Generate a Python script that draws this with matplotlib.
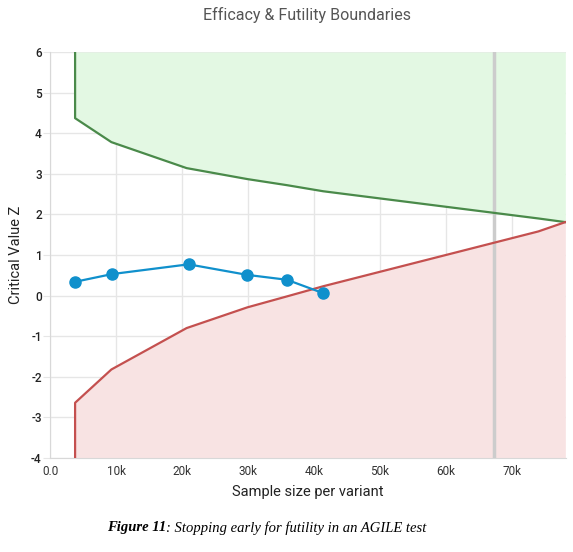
import matplotlib.pyplot as plt
from matplotlib.ticker import FuncFormatter

# sample size per variant (thousands) at each look
looks = [3.8, 9.3, 20.7, 29.9, 35.9, 41.4, 74.0, 78.1]
efficacy = [4.37, 3.78, 3.14, 2.87, 2.72, 2.57, 1.90, 1.81]
futility = [-2.64, -1.82, -0.80, -0.29, -0.02, 0.23, 1.58, 1.81]

observed_n = [3.8, 9.4, 21.0, 29.9, 35.9, 41.4]
observed_z = [0.34, 0.53, 0.77, 0.51, 0.39, 0.06]

max_n = 67.3
x_ticks = [0, 10, 20, 30, 40, 50, 60, 70]
y_ticks = [-4, -3, -2, -1, 0, 1, 2, 3, 4, 5, 6]

plt.rcParams['font.family'] = ['Roboto', 'DejaVu Sans']

fig = plt.figure(figsize=(5.73, 5.52), dpi=100)
ax = fig.add_axes([0.0873, 0.1703, 0.9005, 0.7355])

eff_x = [looks[0]] + looks
eff_y = [6] + efficacy
fut_x = [looks[0]] + looks
fut_y = [-4] + futility

ax.fill_between(eff_x, eff_y, 6, color='#e3f8e3', lw=0, zorder=1)
ax.fill_between(fut_x, fut_y, -4, color='#f8e3e3', lw=0, zorder=1)
ax.plot(eff_x, eff_y, color='#4a8a4a', lw=1.6, zorder=3)
ax.plot(fut_x, fut_y, color='#c4504f', lw=1.6, zorder=3)
ax.axvline(max_n, color='#cccccc', lw=2.5, zorder=2)
ax.plot(observed_n, observed_z, color='#1090cc', lw=1.6, marker='o',
        ms=8, zorder=4)

ax.set_xlim(0, 78.2)
ax.set_ylim(-4, 6)
ax.set_xticks(x_ticks)
ax.set_yticks(y_ticks)
ax.xaxis.set_major_formatter(FuncFormatter(lambda v, p: '0.0' if v == 0 else f'{int(v)}k'))
ax.yaxis.set_major_formatter(FuncFormatter(lambda v, p: f'{int(v)}'))
ax.grid(True, color='#e6e6e6', lw=1, zorder=0)
ax.set_axisbelow(True)
for side in ['top', 'right']:
    ax.spines[side].set_visible(False)
for side in ['left', 'bottom']:
    ax.spines[side].set_color('#d8d8d8')
ax.tick_params(axis='x', colors='#333333', labelsize=8.5, length=0, pad=5)
ax.tick_params(axis='y', colors='#222222', labelsize=8.5, length=5, pad=1)
ax.tick_params(axis='y', color='#e6e6e6')
for lbl in ax.get_yticklabels():
    lbl.set_fontweight('medium')

ax.set_xlabel('Sample size per variant', fontsize=10.5, color='#222222', labelpad=5)
ax.set_ylabel('Critical Value Z', fontsize=10.5, color='#222222', labelpad=6)
fig.text(0.536, 0.972, 'Efficacy & Futility Boundaries', ha='center', va='center',
         fontsize=11.5, color='#555555')

cap_y = 0.044
fig.text(0.29, cap_y, 'Figure 11', ha='right', va='center', fontsize=10.5,
         family='Liberation Serif', style='italic', weight='bold')
fig.text(0.29, cap_y, ': Stopping early for futility in an AGILE test', ha='left',
         va='center', fontsize=10.5, family='Liberation Serif', style='italic')

fig.savefig('out.png', dpi=100)
